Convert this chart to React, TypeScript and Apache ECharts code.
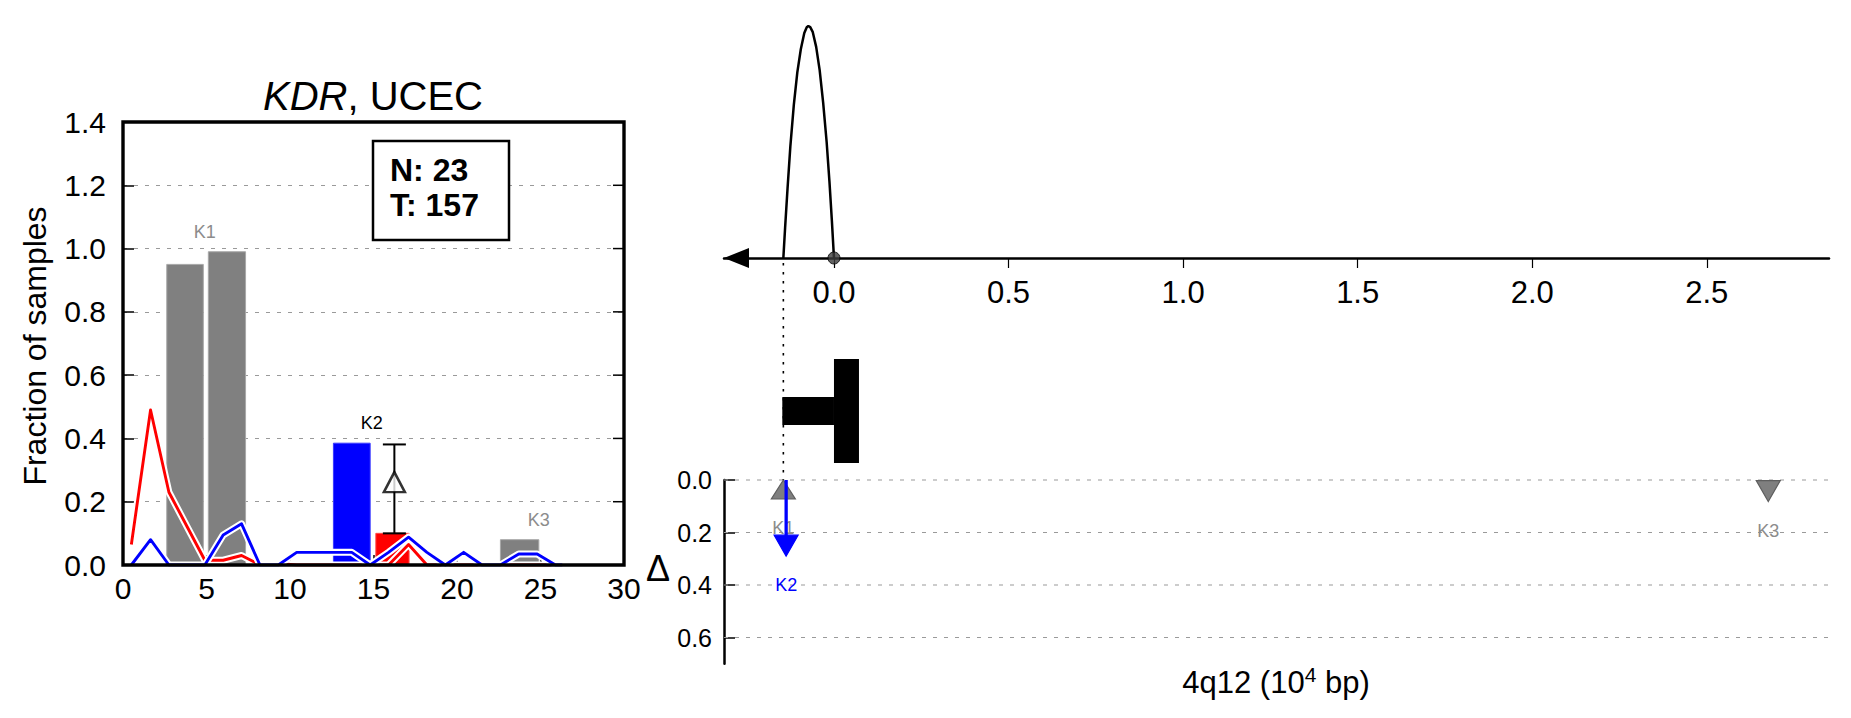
import React, { useEffect, useRef } from "react";
import * as echarts from "echarts";

const FONT = "'Liberation Sans', Arial, Helvetica, sans-serif";

// ---------- Left panel: histogram (KDR, UCEC) ----------
const histXMin = 0;
const histXMax = 30;
const histYMax = 1.4;
const histYTicks = [0.0, 0.2, 0.4, 0.6, 0.8, 1.0, 1.2, 1.4];
const barStart = [2.62, 5.11, 12.6, 15.14, 22.6];
const barEnd = [4.81, 7.34, 14.8, 17.13, 24.9];
const barValue = [0.95, 0.99, 0.385, 0.1, 0.08];
const barColor = ["#808080", "#808080", "#0000ff", "#ff0000", "#808080"];
const barEdge = ["#a8a8a8", "#a8a8a8", "#3a3aff", "#ff4a4a", "#a8a8a8"];

const groupNames = ["K1", "K2", "K3"];
const groupCenter = [4.9, 14.9, 24.9];
const groupBars = [[0, 1], [2, 3], [4]];
const groupLabelColor = ["#8c8c8c", "#000000", "#8c8c8c"];

const lineX = [0.5, 1.65, 2.75, 3.85, 4.9, 6.0, 7.1, 8.2, 9.3, 10.4, 11.5, 12.6, 13.7, 14.8, 15.9, 17.1, 18.2, 19.3, 20.4, 21.5, 22.6, 23.7, 24.8, 25.9, 26.3];
const redY = [0.065, 0.49, 0.23, 0.12, 0.015, 0.015, 0.03, 0.0, 0.005, 0.0, 0.0, 0.0, 0.0, 0.0, 0.0, 0.065, 0.0, 0.0, 0.0, 0.0, 0.0, 0.0, 0.0, 0.0, 0.0];
const blueY = [0.0, 0.08, 0.0, 0.0, 0.0, 0.095, 0.13, 0.0, 0.0, 0.04, 0.04, 0.04, 0.04, 0.0, 0.04, 0.088, 0.04, 0.0, 0.04, 0.0, 0.0, 0.035, 0.035, 0.0, 0.0];

const deltaX = 16.25;
const deltaMean = 0.262;
const deltaLow = 0.1;
const deltaHigh = 0.381;

const nSamples = 23;
const tSamples = 157;

// ---------- Right panels: genomic position (10^4 bp) ----------
const genomicMin = -0.315;
const genomicMax = 2.85;
const genomicTicks = [0, 0.5, 1.0, 1.5, 2.0, 2.5];
const curveX = [-0.145, -0.14, -0.133, -0.125, -0.115, -0.105, -0.095, -0.085, -0.078, -0.0735, -0.068, -0.061, -0.051, -0.041, -0.031, -0.021, -0.013, -0.006, 0.0];
const curveY = [0.0, 0.13, 0.3, 0.48, 0.66, 0.8, 0.9, 0.97, 0.995, 1.0, 0.995, 0.975, 0.91, 0.81, 0.67, 0.5, 0.33, 0.16, 0.0];
const sitePos = 0.0;
const variantPos = -0.145;
const geneParts = [
  [-0.148, 0.0, 0],
  [0.0, 0.0716, 1],
];

const deltaAxisMax = 0.7;
const deltaTicks = [0.0, 0.2, 0.4, 0.6];
const kPos = [-0.145, -0.137, 2.676];
const kTip = [0.0, 0.29, 0.082];
const kDir = [-1, 1, 1];
const kColor = ["#7f7f7f", "#0000ff", "#7f7f7f"];
const kEdge = ["#5e5e5e", "#0000ff", "#5e5e5e"];
const kLabelColor = ["#8c8c8c", "#0000ff", "#8c8c8c"];

const fontOf = (size: number) => ({ fontFamily: FONT, fontSize: size, color: "#000" });

function buildOption() {
  const grids: any[] = [
    { left: 123, top: 122, width: 501, height: 443 },
    { left: 724, top: 26, width: 1105, height: 232 },
    { left: 724, top: 258, width: 1105, height: 222 },
    { left: 724, top: 480, width: 1105, height: 183.75 },
  ].map((g) => ({ ...g, show: false, containLabel: false, outerBoundsMode: "none" }));

  const hidden = { show: false };

  const xAxis: any[] = [
    {
      gridIndex: 0, type: "value", min: histXMin, max: histXMax, interval: 5,
      axisLine: hidden,
      axisTick: { show: true, inside: true, length: 10, lineStyle: { color: "#000", width: 1.5 } },
      axisLabel: { ...fontOf(30), margin: 8, showMinLabel: true, showMaxLabel: true },
      splitLine: hidden,
    },
    {
      gridIndex: 1, type: "value", min: genomicMin, max: genomicMax,
      axisLine: {
        show: true, onZero: false, symbol: ["triangle", "none"], symbolSize: [20, 25], symbolOffset: [12.5, 0],
        lineStyle: { color: "#000", width: 2.5 },
      },
      axisTick: { show: true, inside: false, length: 10, customValues: genomicTicks, lineStyle: { color: "#000", width: 1.2 } },
      axisLabel: { ...fontOf(31), margin: 19, customValues: genomicTicks, formatter: (v: number) => v.toFixed(1) },
      splitLine: hidden,
    },
    { gridIndex: 2, type: "value", min: genomicMin, max: genomicMax, show: false },
    { gridIndex: 3, type: "value", min: genomicMin, max: genomicMax, show: false },
  ];

  const yAxis: any[] = [
    {
      gridIndex: 0, type: "value", min: 0, max: histYMax, interval: 0.2,
      axisLine: hidden,
      axisTick: { show: true, inside: true, length: 11, lineStyle: { color: "#000", width: 1.5 } },
      axisLabel: { ...fontOf(30), margin: 17, showMinLabel: true, showMaxLabel: true, formatter: (v: number) => v.toFixed(1) },
      splitLine: { show: true, lineStyle: { color: "#9a9a9a", width: 1.2, type: [4, 7] } },
    },
    { gridIndex: 1, type: "value", min: 0, max: 1, show: false },
    { gridIndex: 2, type: "value", min: 0, max: 1, show: false },
    {
      gridIndex: 3, type: "value", min: 0, max: deltaAxisMax, inverse: true,
      axisLine: { show: true, onZero: false, lineStyle: { color: "#000", width: 2.5 } },
      axisTick: { show: true, inside: true, length: 11, customValues: deltaTicks, lineStyle: { color: "#000", width: 1.5 } },
      axisLabel: { ...fontOf(25), margin: 12, customValues: deltaTicks, formatter: (v: number) => v.toFixed(1) },
      splitLine: hidden,
    },
  ];

  const lineSeries = (name: string, ys: number[], color: string, width: number, z: number) => ({
    type: "line", name, xAxisIndex: 0, yAxisIndex: 0, z,
    data: lineX.map((x, i) => [x, ys[i]]),
    symbol: "none", lineStyle: { color, width, join: "round", cap: "butt" }, silent: true,
  });

  const series: any[] = [
    // histogram bars
    {
      type: "custom", name: "bars", xAxisIndex: 0, yAxisIndex: 0, z: 2,
      encode: { x: [0, 1], y: 2 },
      data: barStart.map((s, i) => [s, barEnd[i], barValue[i], i]),
      renderItem: (params: any, api: any) => {
        const i = api.value(3);
        const p0 = api.coord([api.value(0), api.value(2)]);
        const p1 = api.coord([api.value(1), 0]);
        return {
          type: "rect",
          shape: { x: p0[0], y: p0[1], width: p1[0] - p0[0], height: p1[1] - p0[1] },
          style: { fill: barColor[i], stroke: barEdge[i], lineWidth: 1 },
        };
      },
    },
    lineSeries("red-outline", redY, "#ffffff", 7, 3),
    lineSeries("red", redY, "#ff0000", 2.9, 3),
    lineSeries("blue-outline", blueY, "#ffffff", 7, 3),
    lineSeries("blue", blueY, "#0000ff", 2.9, 3),
    // frame of the histogram panel with right-hand inner ticks
    {
      type: "custom", name: "frame", xAxisIndex: 0, yAxisIndex: 0, z: 12, silent: true,
      data: [[histXMax, 0]],
      renderItem: (params: any, api: any) => {
        const cs = params.coordSys;
        const children: any[] = histYTicks.map((v) => {
          const p = api.coord([histXMax, v]);
          return {
            type: "line",
            shape: { x1: p[0] - 11, y1: p[1], x2: p[0], y2: p[1] },
            style: { stroke: "#000", lineWidth: 1.5 },
          };
        });
        children.push({
          type: "rect",
          shape: { x: cs.x, y: cs.y, width: cs.width, height: cs.height },
          style: { fill: "none", stroke: "#000", lineWidth: 3.4 },
        });
        return { type: "group", children };
      },
    },
    // error bar of delta
    {
      type: "custom", name: "errorbar", xAxisIndex: 0, yAxisIndex: 0, z: 5,
      data: [[deltaX, deltaLow, deltaHigh]],
      renderItem: (params: any, api: any) => {
        const x = api.value(0);
        const lo = api.coord([x, api.value(1)]);
        const hi = api.coord([x, api.value(2)]);
        const cap = 11.5;
        const st = { stroke: "#000", lineWidth: 2 };
        return {
          type: "group",
          children: [
            { type: "line", shape: { x1: lo[0], y1: lo[1], x2: hi[0], y2: hi[1] }, style: st },
            { type: "line", shape: { x1: hi[0] - cap, y1: hi[1], x2: hi[0] + cap, y2: hi[1] }, style: st },
            { type: "line", shape: { x1: lo[0] - cap, y1: lo[1], x2: lo[0] + cap, y2: lo[1] }, style: st },
          ],
        };
      },
    },
    {
      type: "scatter", name: "delta-mean", xAxisIndex: 0, yAxisIndex: 0, z: 6,
      data: [[deltaX, deltaMean]], symbol: "triangle", symbolSize: [21, 20], clip: false,
      itemStyle: { color: "#ffffff", borderColor: "#000", borderWidth: 2.5 }, silent: true,
    },
    // group labels
    {
      type: "custom", name: "group-labels", xAxisIndex: 0, yAxisIndex: 0, z: 6,
      data: groupCenter.map((c, g) => [c, Math.max(...groupBars[g].map((i) => barValue[i])), g]),
      renderItem: (params: any, api: any) => {
        const g = api.value(2);
        const p = api.coord([api.value(0), api.value(1)]);
        return {
          type: "text",
          style: {
            text: groupNames[g], x: p[0], y: p[1] - 20, fill: groupLabelColor[g],
            fontSize: 18, fontFamily: FONT, align: "center", verticalAlign: "middle",
          },
        };
      },
    },
    // top right: density curve
    {
      type: "line", name: "curve", xAxisIndex: 1, yAxisIndex: 1, z: 3, clip: false,
      data: curveX.map((x, i) => [x, curveY[i]]), symbol: "none",
      lineStyle: { color: "#000", width: 2.5 }, silent: true,
    },
    {
      type: "scatter", name: "site", xAxisIndex: 1, yAxisIndex: 1, z: 5, clip: false,
      data: [[sitePos, 0]], symbolSize: 12,
      itemStyle: { color: "#3d3d3d", borderColor: "#000", borderWidth: 1 }, silent: true,
    },
    // gene track
    {
      type: "custom", name: "gene", xAxisIndex: 2, yAxisIndex: 2, z: 3,
      data: geneParts,
      renderItem: (params: any, api: any) => {
        const cs = params.coordSys;
        const x0 = api.coord([api.value(0), 0])[0];
        const x1 = api.coord([api.value(1), 0])[0];
        const thick = api.value(2) === 1;
        const cy = cs.y + cs.height * 0.689;
        const h = thick ? 104 : 28;
        return { type: "rect", shape: { x: x0, y: cy - h / 2, width: x1 - x0, height: h }, style: { fill: "#000" } };
      },
    },
    {
      type: "custom", name: "variant-guide", xAxisIndex: 2, yAxisIndex: 2, z: 2,
      data: [[variantPos, 0]],
      renderItem: (params: any, api: any) => {
        const cs = params.coordSys;
        const x = api.coord([api.value(0), 0])[0];
        return {
          type: "line",
          shape: { x1: x, y1: cs.y + 5, x2: x, y2: cs.y + cs.height },
          style: { stroke: "#000", lineWidth: 1.6, lineDash: [2.5, 6.5] },
        };
      },
    },
    // bottom right: gridlines
    {
      type: "custom", name: "delta-grid", xAxisIndex: 3, yAxisIndex: 3, z: 1,
      data: deltaTicks.map((v) => [0, v]),
      renderItem: (params: any, api: any) => {
        const cs = params.coordSys;
        const y = api.coord([0, api.value(1)])[1];
        return {
          type: "line",
          shape: { x1: cs.x, y1: y, x2: cs.x + cs.width, y2: y },
          style: { stroke: "#9a9a9a", lineWidth: 1.2, lineDash: [4, 7] },
        };
      },
    },
    // bottom right: delta arrows
    {
      type: "custom", name: "delta-arrows", xAxisIndex: 3, yAxisIndex: 3, z: 4,
      data: kPos.map((p, k) => [p, kTip[k], k]),
      renderItem: (params: any, api: any) => {
        const k = api.value(2);
        const pos = api.value(0);
        const pt = api.coord([pos, api.value(1)]);
        const p0 = api.coord([pos, 0]);
        const dir = kDir[k];
        const headLen = dir > 0 ? 21 : 19;
        const headW = 12;
        const baseY = pt[1] - dir * headLen;
        const children: any[] = [];
        if (dir > 0 && baseY > p0[1] + 1) {
          children.push({
            type: "line", shape: { x1: pt[0], y1: p0[1], x2: pt[0], y2: baseY + 1 },
            style: { stroke: kColor[k], lineWidth: 3.3 },
          });
        }
        children.push({
          type: "polygon",
          shape: { points: [[pt[0], pt[1]], [pt[0] - headW, baseY], [pt[0] + headW, baseY]] },
          style: { fill: kColor[k], stroke: kEdge[k], lineWidth: 1.2 },
        });
        const far = Math.max(pt[1], baseY);
        children.push({
          type: "text",
          style: {
            text: groupNames[k], x: pt[0], y: far + 29, fill: kLabelColor[k],
            fontSize: 18, fontFamily: FONT, align: "center", verticalAlign: "middle",
          },
          z2: -1,
        });
        return { type: "group", children };
      },
    },
  ];

  const graphic: any[] = [
    {
      type: "text", x: 373, y: 96, z: 20,
      style: {
        text: "{i|KDR}{n|, UCEC}", align: "center", verticalAlign: "middle",
        rich: {
          i: { fontFamily: FONT, fontSize: 40, fontStyle: "italic", fill: "#000", color: "#000" },
          n: { fontFamily: FONT, fontSize: 40, fill: "#000", color: "#000" },
        },
      },
    },
    {
      type: "text", x: 35, y: 346, rotation: Math.PI / 2, z: 20,
      style: { text: "Fraction of samples", fontFamily: FONT, fontSize: 32, fill: "#000", align: "center", verticalAlign: "middle" },
    },
    {
      type: "rect", z: 20,
      shape: { x: 373, y: 141, width: 136, height: 99 },
      style: { fill: "#fff", stroke: "#000", lineWidth: 2.5 },
    },
    {
      type: "text", x: 390, y: 187, z: 21,
      style: {
        text: `N: ${nSamples}\nT: ${tSamples}`, fontFamily: FONT, fontSize: 32, fontWeight: "bold",
        lineHeight: 35, fill: "#000", align: "left", verticalAlign: "middle",
      },
    },
    {
      type: "text", x: 658, y: 568, z: 20,
      style: { text: "Δ", fontFamily: FONT, fontSize: 36, fill: "#000", align: "center", verticalAlign: "middle" },
    },
    {
      type: "text", x: 1276, y: 682, z: 20,
      style: {
        text: "{a|4q12 (10}{s|4}{a| bp)}", align: "center", verticalAlign: "middle",
        rich: {
          a: { fontFamily: FONT, fontSize: 31, lineHeight: 36, fill: "#000", color: "#000" },
          s: { fontFamily: FONT, fontSize: 21, lineHeight: 36, verticalAlign: "top", fill: "#000", color: "#000" },
        },
      },
    },
  ];

  return {
    animation: false,
    backgroundColor: "#ffffff",
    textStyle: { fontFamily: FONT },
    grid: grids,
    xAxis,
    yAxis,
    series,
    graphic,
  };
}

export default function App() {
  const ref = useRef<HTMLDivElement>(null);
  useEffect(() => {
    if (!ref.current) return;
    const chart = echarts.init(ref.current, null, { renderer: "svg" });
    chart.setOption(buildOption() as any);
    return () => chart.dispose();
  }, []);
  return <div ref={ref} style={{ position: "absolute", left: 0, top: 0, width: 1851, height: 718 }} />;
}
